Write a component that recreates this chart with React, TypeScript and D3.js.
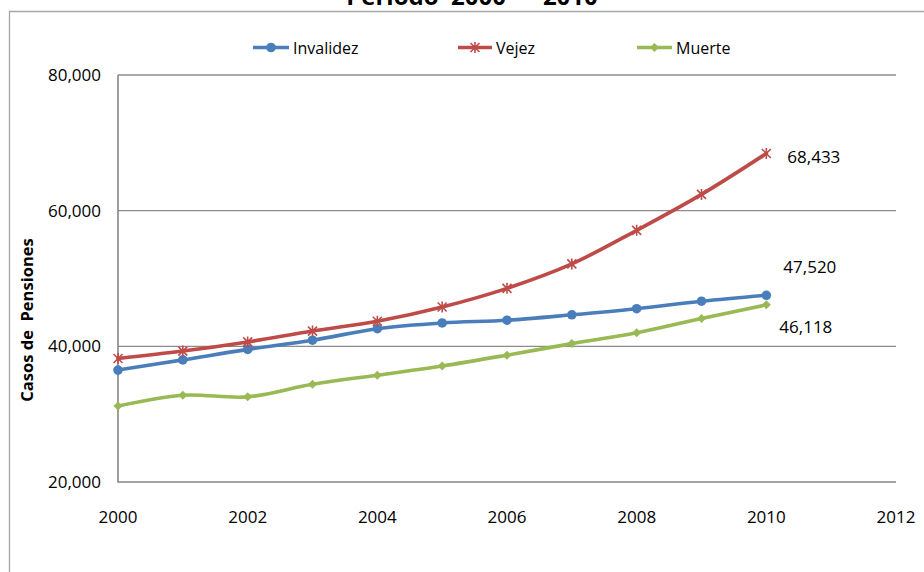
import { useEffect, useRef } from 'react';
import * as d3 from 'd3';

const years = [2000, 2001, 2002, 2003, 2004, 2005, 2006, 2007, 2008, 2009, 2010];
const invalidez = [36500, 38000, 39550, 40900, 42600, 43450, 43850, 44650, 45550, 46650, 47520];
const vejez = [38200, 39300, 40650, 42250, 43700, 45800, 48550, 52150, 57100, 62400, 68433];
const muerte = [31200, 32800, 32550, 34400, 35750, 37100, 38700, 40400, 42000, 44100, 46118];
const xTicks = [2000, 2002, 2004, 2006, 2008, 2010, 2012];
const yTicks = [20000, 40000, 60000, 80000];

const W = 924;
const H = 572;
const FONT = '"Open Sans", "Noto Sans", sans-serif';

export default function App() {
  const svgRef = useRef<SVGSVGElement>(null);

  useEffect(() => {
    if (!svgRef.current) return;
    const svg = d3.select(svgRef.current);
    svg.selectAll('*').remove();

    const left = 118, right = 896, top = 75, bottom = 482;
    const x = d3.scaleLinear().domain([2000, 2012]).range([left, right]);
    const y = d3.scaleLinear().domain([20000, 80000]).range([bottom, top]);

    // Outer frame (partly cropped)
    svg.append('path')
      .attr('d', `M9.5,${H} V11.5 H${W}`)
      .attr('fill', 'none')
      .attr('stroke', '#a6a6a6')
      .attr('stroke-width', 1.3);

    // Title (cut off at top in the original)
    svg.append('text')
      .attr('x', 472)
      .attr('y', 5)
      .attr('text-anchor', 'middle')
      .attr('font-family', FONT)
      .attr('font-size', 24)
      .attr('font-weight', 700)
      .style('white-space', 'pre')
      .text('Periodo  2000  –  2010');

    // Grid lines
    svg.append('g')
      .selectAll('line')
      .data(yTicks.filter(t => t > 20000))
      .join('line')
      .attr('x1', left)
      .attr('x2', right)
      .attr('y1', d => y(d))
      .attr('y2', d => y(d))
      .attr('stroke', '#8c8c8c')
      .attr('stroke-width', 1.4);

    // Axes lines
    svg.append('path')
      .attr('d', `M${left},${top} V${bottom} H${right}`)
      .attr('fill', 'none')
      .attr('stroke', '#868686')
      .attr('stroke-width', 1.6);

    // Y tick labels
    svg.append('g')
      .selectAll('text')
      .data(yTicks)
      .join('text')
      .attr('x', 101)
      .attr('y', d => y(d))
      .attr('dy', '0.35em')
      .attr('text-anchor', 'end')
      .attr('font-family', FONT)
      .attr('font-size', 17)
      .attr('fill', '#000')
      .text(d => d3.format(',')(d));

    // X tick labels
    svg.append('g')
      .selectAll('text')
      .data(xTicks)
      .join('text')
      .attr('x', d => x(d))
      .attr('y', 523)
      .attr('text-anchor', 'middle')
      .attr('font-family', FONT)
      .attr('font-size', 17)
      .attr('fill', '#000')
      .text(d => String(d));

    // Y axis title
    svg.append('text')
      .attr('transform', 'translate(33,320) rotate(-90)')
      .attr('text-anchor', 'middle')
      .attr('font-family', FONT)
      .attr('font-size', 16.5)
      .attr('font-weight', 700)
      .style('white-space', 'pre')
      .text('Casos de  Pensiones');

    const line = d3.line<number>()
      .x((_, i) => x(years[i]))
      .y(d => y(d))
      .curve(d3.curveCardinal.tension(0));

    const series = [
      { name: 'Invalidez', values: invalidez, color: '#4a7ebb', marker: 'circle' },
      { name: 'Vejez', values: vejez, color: '#be4b48', marker: 'star' },
      { name: 'Muerte', values: muerte, color: '#98b954', marker: 'diamond' },
    ];

    const drawMarker = (g: d3.Selection<SVGGElement, unknown, null, undefined>, type: string, cx: number, cy: number, color: string) => {
      if (type === 'circle') {
        g.append('circle').attr('cx', cx).attr('cy', cy).attr('r', 4.8).attr('fill', color);
      } else if (type === 'diamond') {
        const s = 4.5;
        g.append('path')
          .attr('d', `M${cx},${cy - s} L${cx + s},${cy} L${cx},${cy + s} L${cx - s},${cy} Z`)
          .attr('fill', color);
      } else {
        const s = 4.5;
        g.append('path')
          .attr('d', `M${cx - s},${cy - s} L${cx + s},${cy + s} M${cx - s},${cy + s} L${cx + s},${cy - s} M${cx},${cy - s - 1} L${cx},${cy + s + 1}`)
          .attr('stroke', color)
          .attr('stroke-width', 1.6)
          .attr('fill', 'none');
      }
    };

    series.forEach(s => {
      svg.append('path')
        .datum(s.values)
        .attr('d', line)
        .attr('fill', 'none')
        .attr('stroke', s.color)
        .attr('stroke-width', 3.6)
        .attr('stroke-linecap', 'round');
      const mg = svg.append('g');
      s.values.forEach((v, i) => drawMarker(mg, s.marker, x(years[i]), y(v), s.color));
    });

    // Data labels at 2010
    const fmt = d3.format(',');
    const last = years.length - 1;
    const labels = [
      { v: vejez[last], dx: 21, dy: 10 },
      { v: invalidez[last], dx: 17, dy: -22 },
      { v: muerte[last], dx: 13, dy: 28 },
    ];
    svg.append('g')
      .selectAll('text')
      .data(labels)
      .join('text')
      .attr('x', d => x(2010) + d.dx)
      .attr('y', d => y(d.v) + d.dy)
      .attr('font-family', FONT)
      .attr('font-size', 17)
      .attr('fill', '#000')
      .text(d => fmt(d.v));

    // Legend
    const legendPos = [
      { x1: 253, x2: 289, tx: 293 },
      { x1: 458, x2: 492, tx: 496 },
      { x1: 637, x2: 672, tx: 676 },
    ];
    series.forEach((s, i) => {
      const p = legendPos[i];
      const lg = svg.append('g');
      lg.append('line')
        .attr('x1', p.x1).attr('x2', p.x2)
        .attr('y1', 47.5).attr('y2', 47.5)
        .attr('stroke', s.color)
        .attr('stroke-width', 3.6);
      drawMarker(lg, s.marker, (p.x1 + p.x2) / 2, 47.5, s.color);
      lg.append('text')
        .attr('x', p.tx)
        .attr('y', 53.5)
        .attr('font-family', FONT)
        .attr('font-size', 16)
        .attr('fill', '#000')
        .text(s.name);
    });
  }, []);

  return (
    <div style={{ position: 'fixed', left: 0, top: 0 }}>
      <svg ref={svgRef} width={W} height={H} style={{ display: 'block', background: '#fff' }} />
    </div>
  );
}
